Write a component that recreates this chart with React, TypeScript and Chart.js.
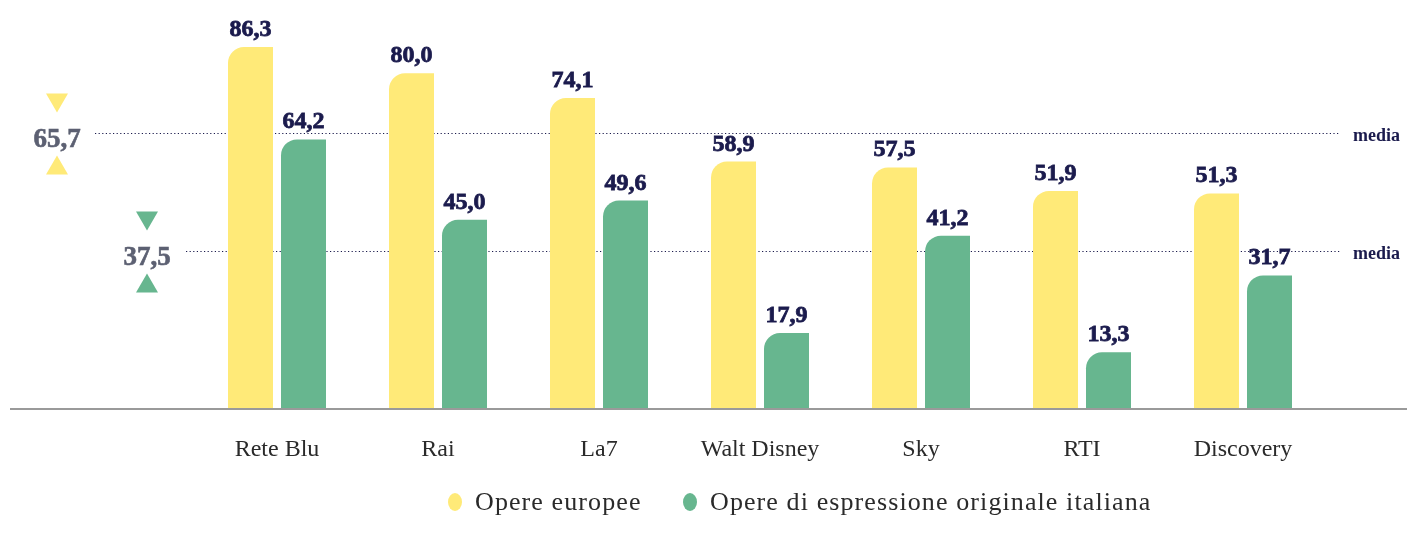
import React, { useEffect, useRef } from "react";
import { Chart, registerables } from "chart.js";

Chart.register(...registerables);

const categories = ["Rete Blu", "Rai", "La7", "Walt Disney", "Sky", "RTI", "Discovery"];
const europeanWorks = [86.3, 80.0, 74.1, 58.9, 57.5, 51.9, 51.3];
const italianWorks = [64.2, 45.0, 49.6, 17.9, 41.2, 13.3, 31.7];
const seriesNames = ["Opere europee", "Opere di espressione originale italiana"];
const averages = [65.7, 37.5];
const averageLabel = "media";

const YELLOW = "#FFEA78";
const GREEN = "#67B68F";
const NAVY = "#1B1B4D";
const GREY_NUM = "#5C6072";
const TEXT = "#2A2A2A";

const fmt = (v: number) => v.toFixed(1).replace(".", ",");

const decorPlugin = {
  id: "decor",
  beforeDatasetsDraw(chart: any) {
    const ctx = chart.ctx as CanvasRenderingContext2D;
    const y = chart.scales.y;
    ctx.save();
    // baseline axis
    const y0 = y.getPixelForValue(0);
    ctx.strokeStyle = "#9A9A9A";
    ctx.lineWidth = 2;
    ctx.beginPath();
    ctx.moveTo(10, y0 + 1);
    ctx.lineTo(1407, y0 + 1);
    ctx.stroke();

    const colors = [YELLOW, GREEN];
    const startX = [95, 186];
    const numX = [57, 147];
    averages.forEach((avg, i) => {
      const ly = Math.round(y.getPixelForValue(avg)) + 0.5;
      ctx.strokeStyle = NAVY;
      ctx.lineWidth = 1.2;
      ctx.setLineDash([1.2, 2.4]);
      ctx.beginPath();
      ctx.moveTo(startX[i], ly);
      ctx.lineTo(1340, ly);
      ctx.stroke();
      ctx.setLineDash([]);

      // left number
      ctx.fillStyle = GREY_NUM;
      ctx.strokeStyle = GREY_NUM;
      ctx.lineWidth = 0.6;
      ctx.font = "bold 27px 'Liberation Serif', serif";
      ctx.textAlign = "center";
      ctx.textBaseline = "alphabetic";
      ctx.fillText(fmt(avg), numX[i], ly + 13);
      ctx.strokeText(fmt(avg), numX[i], ly + 13);

      // triangles
      ctx.fillStyle = colors[i];
      const cx = numX[i];
      ctx.beginPath();
      ctx.moveTo(cx - 11, ly - 40);
      ctx.lineTo(cx + 11, ly - 40);
      ctx.lineTo(cx, ly - 21);
      ctx.closePath();
      ctx.fill();
      ctx.beginPath();
      ctx.moveTo(cx, ly + 22);
      ctx.lineTo(cx + 11, ly + 41);
      ctx.lineTo(cx - 11, ly + 41);
      ctx.closePath();
      ctx.fill();

      // media label
      ctx.fillStyle = NAVY;
      ctx.font = "bold 18px 'Liberation Serif', serif";
      ctx.textAlign = "left";
      ctx.fillText(averageLabel, 1353, ly + 7);
    });
    ctx.restore();
  },
  afterDatasetsDraw(chart: any) {
    const ctx = chart.ctx as CanvasRenderingContext2D;
    const x = chart.scales.x;
    ctx.save();
    // value labels
    ctx.fillStyle = NAVY;
    ctx.strokeStyle = NAVY;
    ctx.lineWidth = 0.8;
    ctx.font = "bold 24px 'Liberation Serif', serif";
    ctx.textAlign = "center";
    ctx.textBaseline = "alphabetic";
    (ctx as any).letterSpacing = "0px";
    chart.data.datasets.forEach((ds: any, di: number) => {
      const meta = chart.getDatasetMeta(di);
      meta.data.forEach((bar: any, i: number) => {
        ctx.fillText(fmt(ds.data[i]), bar.x, bar.y - 11);
        ctx.strokeText(fmt(ds.data[i]), bar.x, bar.y - 11);
      });
    });

    // category labels
    ctx.fillStyle = TEXT;
    ctx.font = "24px 'Liberation Serif', serif";
    categories.forEach((c, i) => {
      ctx.fillText(c, x.getPixelForValue(i), 456);
    });

    // legend
    ctx.font = "26px 'Liberation Serif', serif";
    ctx.textAlign = "left";
    (ctx as any).letterSpacing = "1.1px";
    const items = [
      { label: seriesNames[0], color: YELLOW, cx: 455, tx: 475 },
      { label: seriesNames[1], color: GREEN, cx: 690, tx: 710 },
    ];
    items.forEach((it) => {
      ctx.fillStyle = it.color;
      ctx.beginPath();
      ctx.ellipse(it.cx, 502, 7, 9, 0, 0, Math.PI * 2);
      ctx.fill();
      ctx.fillStyle = TEXT;
      ctx.fillText(it.label, it.tx, 510);
    });
    (ctx as any).letterSpacing = "0px";
    ctx.restore();
  },
};

export default function App() {
  const ref = useRef<HTMLCanvasElement | null>(null);
  useEffect(() => {
    document.body.style.margin = "0";
    document.body.style.overflow = "hidden";
    if (!ref.current) return;
    const chart = new Chart(ref.current, {
      type: "bar",
      data: {
        labels: categories,
        datasets: [
          {
            label: seriesNames[0],
            data: europeanWorks,
            backgroundColor: YELLOW,
            borderRadius: { topLeft: 16, topRight: 0, bottomLeft: 0, bottomRight: 0 },
            borderSkipped: false,
            categoryPercentage: 106 / 161,
            barPercentage: 45 / 53,
          },
          {
            label: seriesNames[1],
            data: italianWorks,
            backgroundColor: GREEN,
            borderRadius: { topLeft: 16, topRight: 0, bottomLeft: 0, bottomRight: 0 },
            borderSkipped: false,
            categoryPercentage: 106 / 161,
            barPercentage: 45 / 53,
          },
        ],
      },
      options: {
        animation: false,
        responsive: false,
        maintainAspectRatio: false,
        layout: { padding: { left: 196.5, right: 83.5, top: 31.5, bottom: 125 } },
        plugins: { legend: { display: false }, tooltip: { enabled: false } },
        scales: {
          x: { display: false },
          y: { display: false, min: 0, max: 90 },
        },
      },
      plugins: [decorPlugin],
    });
    return () => chart.destroy();
  }, []);
  return (
    <div style={{ width: 1407, height: 533, overflow: "hidden", background: "#fff" }}>
      <canvas ref={ref} width={1407} height={533} style={{ display: "block" }} />
    </div>
  );
}
